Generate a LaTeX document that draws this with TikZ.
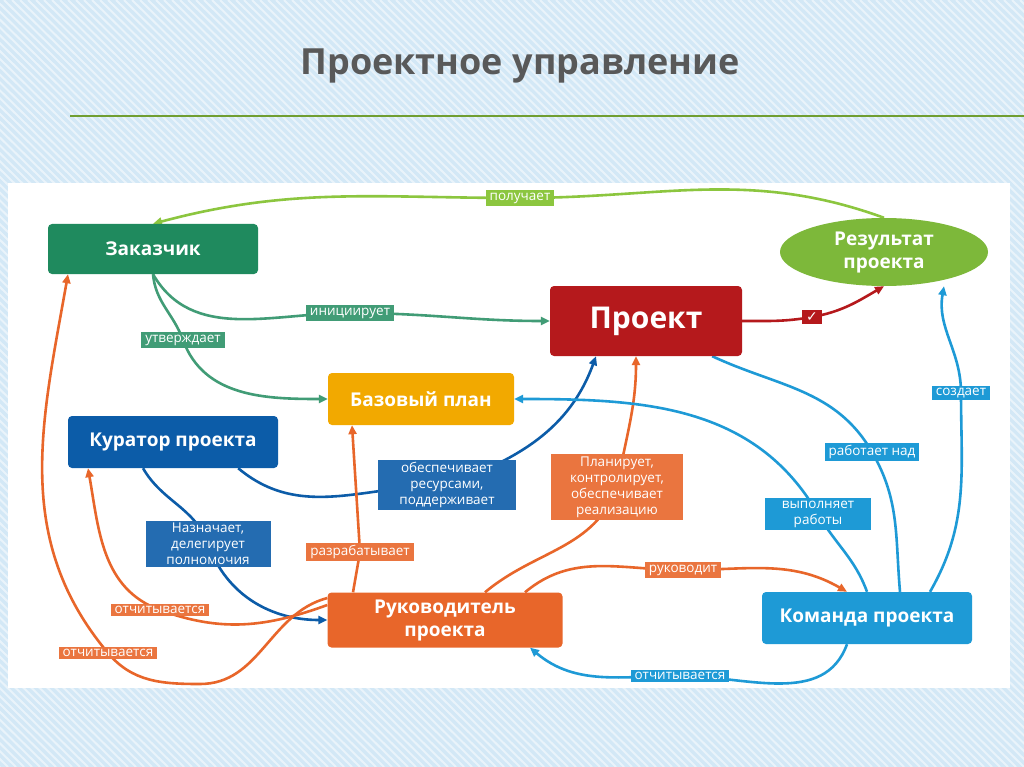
\documentclass[tikz,border=0pt]{standalone}
\usepackage{fontspec}
\setmainfont{Open Sans}
\newfontfamily\symfont{DejaVu Sans}
\usetikzlibrary{shapes.geometric}
\usetikzlibrary{arrows.meta}
\usetikzlibrary{positioning}
\pgfdeclarelayer{backdrop}
\pgfdeclarelayer{background}
\pgfsetlayers{backdrop,background,main}

\definecolor{zakgreen}{HTML}{1F8A5E}
\definecolor{resgreen}{HTML}{7DB83A}
\definecolor{lightgreen}{HTML}{8CC63F}
\definecolor{projred}{HTML}{B5191C}
\definecolor{planyellow}{HTML}{F2A900}
\definecolor{kurblue}{HTML}{0C5CA8}
\definecolor{rukorange}{HTML}{E8662A}
\definecolor{komblue}{HTML}{1E9AD6}
\definecolor{bgblue}{HTML}{D3E8F6}

\begin{document}
\begin{tikzpicture}[
		x=1pt,
		y=-1pt,
		font=\fontsize{13pt}{14pt}\selectfont,
		>={Triangle[length=9pt,width=8pt]},
	]
		\tikzset{actor/.style={
			rectangle,
			rounded corners=4,
			text=white,
			font=\fontsize{19pt}{23pt}\selectfont\bfseries,
			align=center,
			inner sep=0,
		}}
		\tikzset{verb/.style={
			rectangle,
			text=white,
			inner xsep=4,
			inner ysep=2.5,
			align=center,
			font=\fontsize{13.5pt}{16pt}\selectfont,
		}}
		\tikzset{link/.style={
			line width=2.6,
		}}

		%---------------------------------
		% Background
		\useasboundingbox (0,0) rectangle (1024,767);
		\begin{pgfonlayer}{backdrop}
			\fill[bgblue] (0,0) rectangle (1024,767);
			\foreach \k in {0,8,...,1800} {
				\draw[white,opacity=0.5,line width=2] (\k-780,0) -- (\k,767);
			}
			\fill[white] (8,183) rectangle (1010,688);
			\draw[lightgreen!80!black,line width=1.5] (70,116) -- (1024,116);
		\end{pgfonlayer}
		\node[text=gray!70!black,font=\fontsize{36pt}{40pt}\selectfont\bfseries] (title) at (520,66) {Проектное управление};

		%---------------------------------
		% Actors
		\node[actor,fill=zakgreen,minimum width=210,minimum height=50] (zak) at (153,249) {Заказчик};
		\node[actor,ellipse,fill=resgreen,minimum width=208,minimum height=68] (res) at (884,252) {Результат\\проекта};
		\node[actor,fill=projred,minimum width=192,minimum height=70,font=\fontsize{30pt}{34pt}\selectfont\bfseries] (proj) at (646,321) {Проект};
		\node[actor,fill=planyellow,minimum width=186,minimum height=52] (plan) at (421,399) {Базовый план};
		\node[actor,fill=kurblue,minimum width=210,minimum height=52] (kur) at (173,442) {Куратор проекта};
		\node[actor,fill=rukorange,minimum width=235,minimum height=55] (ruk) at (445,620) {Руководитель\\проекта};
		\node[actor,fill=komblue,minimum width=210,minimum height=52] (kom) at (867,618) {Команда проекта};

		%---------------------------------
		% Verbs
		\node[verb,fill=lightgreen] (gets) at (520,198) {получает};
		\node[verb,fill=zakgreen!85] (init) at (350,313) {инициирует};
		\node[verb,fill=zakgreen!85] (appr) at (183,340) {утверждает};
		\node[verb,fill=kurblue!90,text width=130] (supp) at (447,485) {обеспечивает\\ресурсами,\\поддерживает};
		\node[verb,fill=kurblue!90,text width=117] (deleg) at (208,544) {Назначает,\\делегирует\\полномочия};
		\node[verb,fill=rukorange!90] (devel) at (360,552) {разрабатывает};
		\node[verb,fill=rukorange!90,text width=124] (plans) at (617,487) {Планирует,\\контролирует,\\обеспечивает\\реализацию};
		\node[verb,fill=rukorange!90] (rep1) at (160,610) {отчитывается};
		\node[verb,fill=rukorange!90] (rep2) at (108,653) {отчитывается};
		\node[verb,fill=rukorange!90] (lead) at (683,570) {руководит};
		\node[verb,fill=komblue] (rep3) at (680,676) {отчитывается};
		\node[verb,fill=komblue] (make) at (961,393) {создает};
		\node[verb,fill=komblue] (work) at (872,452) {работает над};
		\node[verb,fill=komblue,text width=98] (does) at (818,514) {выполняет\\работы};
		\node[verb,fill=projred,font=\symfont\fontsize{14pt}{15pt}\selectfont] (tick) at (812,317) {✓};

		%---------------------------------
		% Links
		\begin{pgfonlayer}{background}
			\draw[link,lightgreen,->] (res.north) to[out=160,in=0] (gets.center) to[out=180,in=15] (zak.north);
			\draw[link,zakgreen!85,->] (zak.south) to[out=-60,in=180] (init.center) to[out=0,in=180] (proj.west);
			\draw[link,zakgreen!85,->] (zak.south) to[out=-85,in=110] (appr.center) to[out=-70,in=180] (plan.west);
			\draw[link,kurblue,->] (kur.south east) ++(-40,0) to[out=-40,in=180] (supp.center) to[out=20,in=-110] ([xshift=-50]proj.south);
			\draw[link,kurblue,->] ([xshift=-30]kur.south) to[out=-60,in=110] (deleg.center) to[out=-70,in=180] (ruk.west);
			\draw[link,rukorange,->] ([xshift=-92]ruk.north) -- (devel.center) -- ([xshift=-69]plan.south);
			\draw[link,rukorange,->] ([xshift=40]ruk.north) to[out=40,in=-110] (plans.center) to[out=80,in=-90] ([xshift=-10]proj.south);
			\draw[link,rukorange,->] ([yshift=15]ruk.west) to[out=200,in=-20] (rep1.center) to[out=160,in=-80] ([xshift=-85]kur.south);
			\draw[link,rukorange,->] ([yshift=22]ruk.west) to[out=195,in=0] (200,684) to[out=180,in=-50] (rep2.center) to[out=130,in=-100] ([xshift=-85]zak.south);
			\draw[link,rukorange,->] ([xshift=80]ruk.north) to[out=40,in=180] (lead.center) to[out=0,in=150] ([xshift=-20]kom.north);
			\draw[link,komblue,->] ([xshift=-20]kom.south) to[out=-110,in=0] (rep3.center) to[out=180,in=-40] ([xshift=85]ruk.south);
			\draw[link,komblue,->] ([xshift=63]kom.north) to[out=60,in=-90] (make.center) to[out=90,in=-100] ([xshift=60]res.south);
			\draw[link,komblue] ([xshift=33]kom.north) to[out=95,in=-60] (work.center) to[out=120,in=-25] ([xshift=-30]proj.south east);
			\draw[link,komblue,->] (kom.north) to[out=110,in=-60] (does.center) to[out=120,in=0] (plan.east);
			\draw[link,projred,->] (proj.east) to[out=0,in=190] (tick.center) to[out=10,in=-150] (res.south);
		\end{pgfonlayer}
	\end{tikzpicture}
\end{document}
